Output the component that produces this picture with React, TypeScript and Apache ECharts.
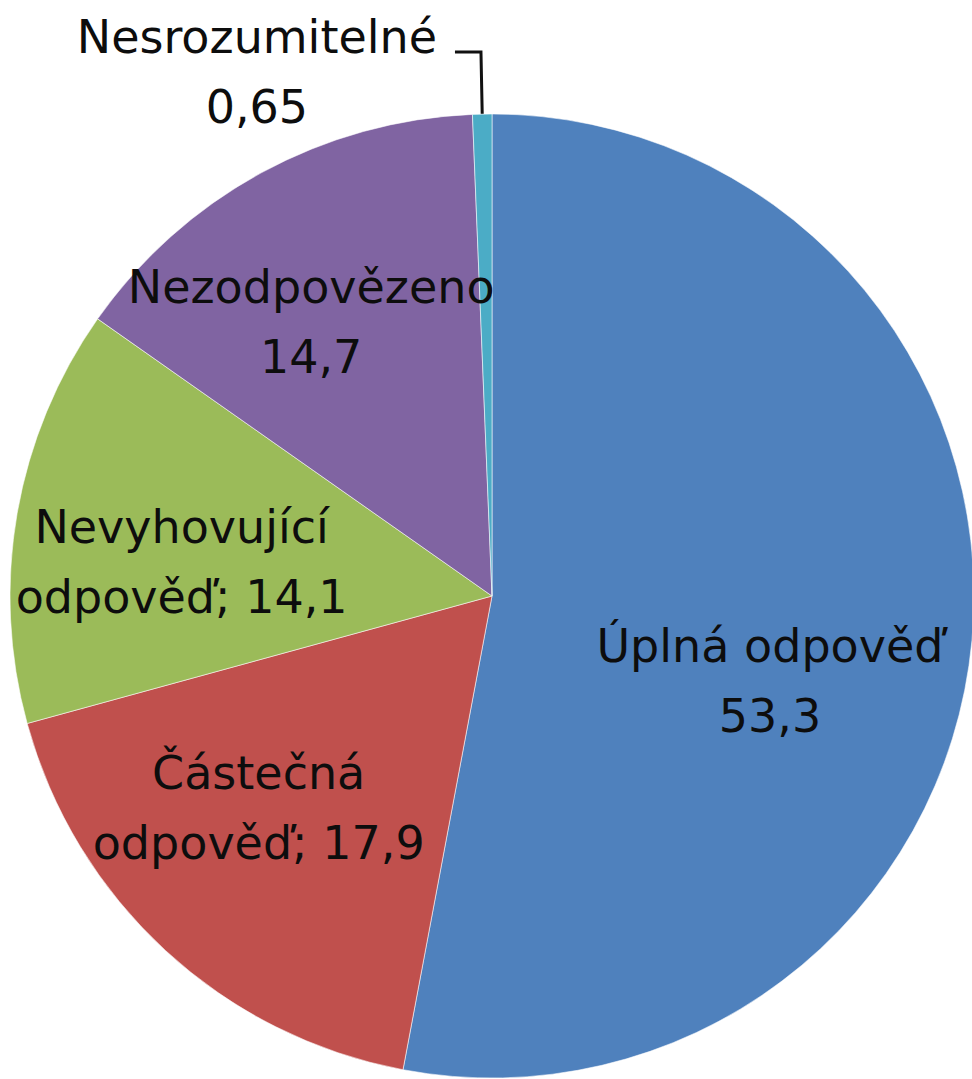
import React, { useEffect, useRef } from "react";
import * as echarts from "echarts";

const categories = [
  "Úplná odpověď",
  "Částečná odpověď",
  "Nevyhovující odpověď",
  "Nezodpovězeno",
  "Nesrozumitelné",
];
const values = [53.3, 17.9, 14.1, 14.7, 0.65];
const wrapAfterFirstWord = [false, true, true, false, false];
const colors = ["#4F81BD", "#C0504D", "#9BBB59", "#8064A2", "#4BACC6"];
const labelShift = [
  [35, 62],
  [-68, 33],
  [-70, 8],
  [-64, -60],
  [0, 0],
];

const fmt = (v: number) => String(v).replace(".", ",");

function labelText(i: number): string {
  const name = categories[i];
  const val = fmt(values[i]);
  if (wrapAfterFirstWord[i]) {
    const sp = name.indexOf(" ");
    return `${name.slice(0, sp)}\n${name.slice(sp + 1)}; ${val}`;
  }
  return `${name}\n${val}`;
}

export default function App() {
  const ref = useRef<HTMLDivElement>(null);
  useEffect(() => {
    if (!ref.current) return;
    const chart = echarts.init(ref.current, null, { renderer: "svg" });
    const font = "'DejaVu Sans', Verdana, sans-serif";
    const data = values.map((v, i) => {
      const outside = i === 4;
      return {
        name: categories[i],
        value: v,
        itemStyle: { color: colors[i] },
        label: outside
          ? {
              position: "outside",
              formatter: labelText(i)
                .split("\n")
                .map((l) => `{c|${l}}`)
                .join("\n"),
              padding: [40, 0, 0, 0],
              distanceToLabelLine: 18,
              rich: {
                c: {
                  align: "center",
                  fontSize: 46,
                  lineHeight: 70,
                  fontFamily: font,
                  color: "#0d0d0d",
                },
              },
            }
          : {
              position: "inside",
              formatter: labelText(i),
            },
        labelLine: outside
          ? {
              show: true,
              length: 62,
              length2: 26,
              lineStyle: { color: "#111111", width: 3 },
            }
          : { show: false },
      };
    });
    chart.setOption({
      animation: false,
      backgroundColor: "#ffffff",
      series: [
        {
          type: "pie",
          center: [492, 596],
          radius: [0, 482],
          startAngle: 90,
          clockwise: true,
          avoidLabelOverlap: false,
          silent: true,
          itemStyle: {
            borderColor: "rgba(255,255,255,0.55)",
            borderWidth: 1,
          },
          label: {
            show: true,
            fontSize: 46,
            lineHeight: 70,
            fontFamily: font,
            color: "#0d0d0d",
            align: "center",
          },
          labelLayout: (params: any) => {
            const s = labelShift[params.dataIndex] || [0, 0];
            return { dx: s[0], dy: s[1] };
          },
          emphasis: { disabled: true },
          data,
        },
      ],
    });
    return () => chart.dispose();
  }, []);
  return (
    <div
      ref={ref}
      style={{ position: "absolute", left: 0, top: 0, width: 972, height: 1079 }}
    />
  );
}
